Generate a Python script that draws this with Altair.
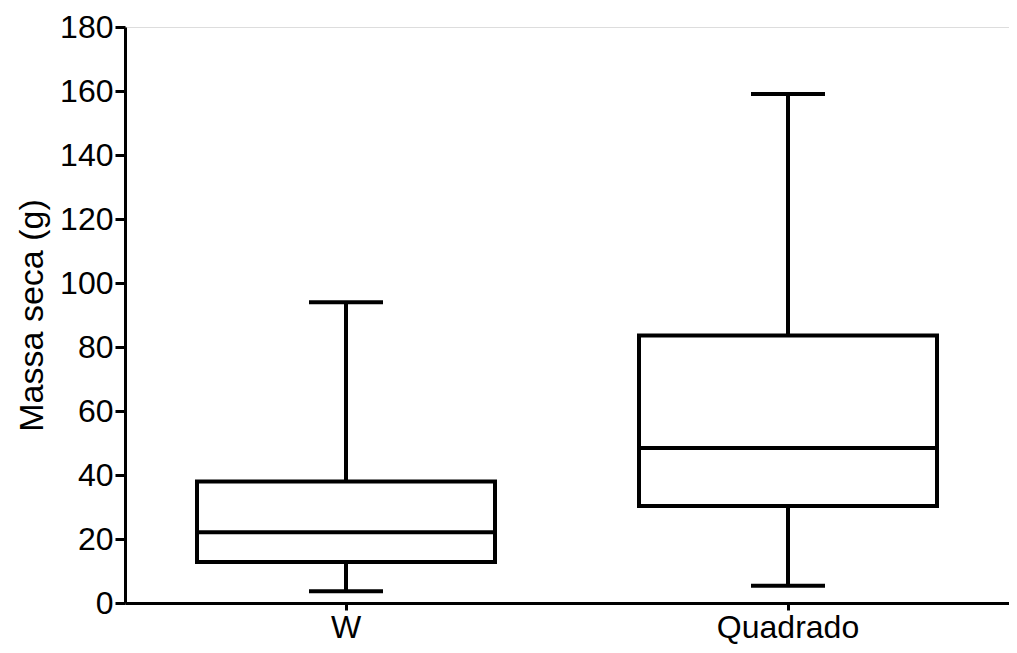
import altair as alt
import pandas as pd

groups = ["W", "Quadrado"]
whisker_low = [3.7, 5.4]
q1 = [12.8, 30.3]
median = [22.1, 48.4]
q3 = [38.0, 83.6]
whisker_high = [94.0, 159.1]

df = pd.DataFrame({
    "grupo": groups,
    "lo": whisker_low,
    "q1": q1,
    "med": median,
    "q3": q3,
    "hi": whisker_high,
})

FONT = "Liberation Sans"
FS = 32
LW = 4

x = alt.X("grupo:N", sort=groups,
          scale=alt.Scale(paddingInner=0, paddingOuter=0),
          axis=alt.Axis(title=None, labelAngle=0, labelFontSize=FS, labelFont=FONT,
                        labelColor="black", domainColor="black", domainWidth=3,
                        tickColor="black", tickWidth=3, tickSize=7, labelPadding=2,
                        grid=False))
yscale = alt.Scale(domain=[0, 180], nice=False)
yaxis = alt.Axis(title="Massa seca (g)", values=list(range(0, 181, 20)),
                 titleFontSize=34, titleFont=FONT, titleFontWeight="normal",
                 titleColor="black", titlePadding=10,
                 labelFontSize=FS, labelFont=FONT, labelColor="black",
                 domainColor="black", domainWidth=3, tickColor="black",
                 tickWidth=3, tickSize=10, labelPadding=2, grid=False)

base = alt.Chart(df)

w_low = base.mark_rule(color="black", strokeWidth=LW).encode(
    x=x, y=alt.Y("lo:Q", scale=yscale, axis=yaxis), y2="q1:Q")
w_high = base.mark_rule(color="black", strokeWidth=LW).encode(
    x=x, y=alt.Y("q3:Q", scale=yscale, axis=yaxis), y2="hi:Q")
box = base.mark_bar(fill="white", stroke="black", strokeWidth=LW, size=298).encode(
    x=x, y=alt.Y("q1:Q", scale=yscale, axis=yaxis), y2="q3:Q")
med = base.mark_tick(color="black", opacity=1, thickness=LW, size=298,
                     orient="horizontal").encode(
    x=x, y=alt.Y("med:Q", scale=yscale, axis=yaxis))
cap_lo = base.mark_tick(color="black", opacity=1, thickness=LW, size=74,
                        orient="horizontal").encode(
    x=x, y=alt.Y("lo:Q", scale=yscale, axis=yaxis))
cap_hi = base.mark_tick(color="black", opacity=1, thickness=LW, size=74,
                        orient="horizontal").encode(
    x=x, y=alt.Y("hi:Q", scale=yscale, axis=yaxis))

chart = alt.layer(w_low, w_high, box, med, cap_lo, cap_hi).properties(
    width=884, height=576,
    autosize=alt.AutoSizeParams(type="none"),
    padding={"left": 117, "top": 19, "right": 0, "bottom": 42},
).configure_view(stroke="transparent", strokeWidth=0
).configure_axis(grid=False).configure(background="white")

chart.save("out.html", embed_options={"renderer": "svg", "actions": False})
